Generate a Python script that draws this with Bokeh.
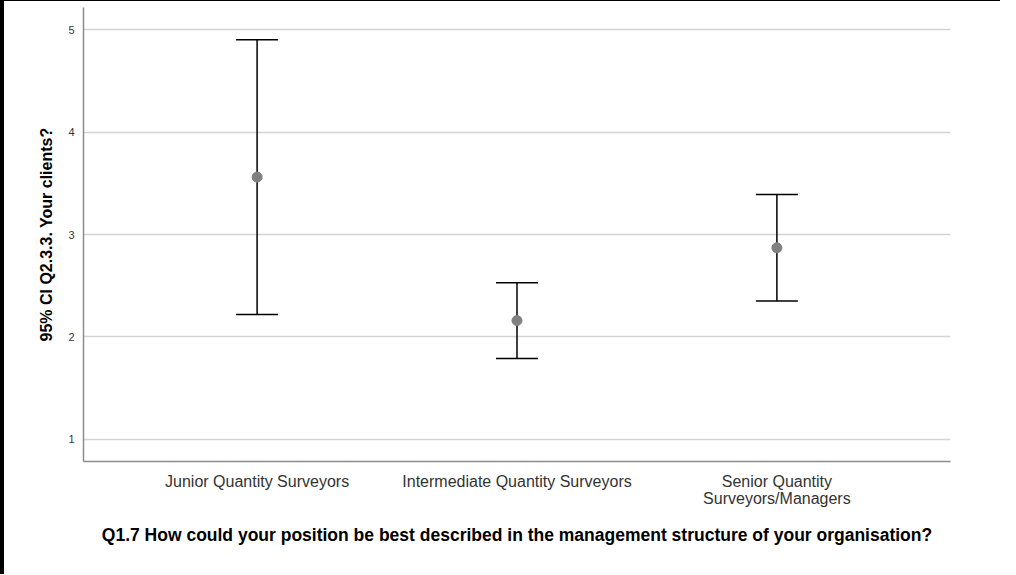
from bokeh.plotting import figure
from bokeh.layouts import column
from bokeh.models import FactorRange, Range1d, ColumnDataSource, Whisker, TeeHead, FixedTicker
from bokeh.embed import file_html
from bokeh.resources import INLINE

categories = ["Junior Quantity Surveyors\n", "Intermediate Quantity Surveyors\n", "Senior Quantity\nSurveyors/Managers"]
means = [3.56, 2.16, 2.87]
lower = [2.22, 1.79, 2.35]
upper = [4.90, 2.53, 3.39]
y_ticks = [1, 2, 3, 4, 5]

FONT = "Liberation Sans"

src = ColumnDataSource(dict(cat=categories, mean=means, lower=lower, upper=upper))

p = figure(x_range=FactorRange(*categories, range_padding=0.112),
           y_range=Range1d(0.785, 5.215),
           width=996, height=573, output_backend="svg", toolbar_location=None,
           min_border_left=79, min_border_right=50, min_border_top=6, min_border_bottom=113)
p.outline_line_color = None
p.background_fill_color = "white"
p.border_fill_color = "white"

# error bars
w = Whisker(source=src, base="cat", lower="lower", upper="upper", line_color="black", line_width=1.5,
            upper_head=TeeHead(size=42, line_color="black", line_width=1.5),
            lower_head=TeeHead(size=42, line_color="black", line_width=1.5))
p.add_layout(w)
p.scatter(x="cat", y="mean", source=src, size=10, fill_color="#808080", line_color="#808080")

p.xgrid.grid_line_color = None
p.ygrid.grid_line_color = "#d4d4d4"
p.ygrid.grid_line_width = 1.5
p.yaxis.ticker = FixedTicker(ticks=y_ticks)

for ax in [p.xaxis[0], p.yaxis[0]]:
    ax.axis_line_color = "#8c8c8c"
    ax.axis_line_width = 1.5
    ax.major_tick_line_color = None
    ax.minor_tick_line_color = None
    ax.major_label_text_font = FONT
    ax.axis_label_text_font = FONT
    ax.axis_label_text_font_style = "bold"
    ax.axis_label_text_color = "black"

p.yaxis.major_label_text_font_size = "11px"
p.yaxis.major_label_text_color = "#333333"
p.yaxis.major_label_standoff = 3
p.yaxis.axis_label = "95% CI Q2.3.3. Your clients?"
p.yaxis.axis_label_text_font_size = "16px"
p.yaxis.axis_label_standoff = 10

p.xaxis.major_label_text_font_size = "16px"
p.xaxis.major_label_text_line_height = 1.0
p.xaxis.major_label_text_color = "#333333"
p.xaxis.major_label_standoff = 5
p.xaxis.axis_label = "Q1.7 How could your position be best described in the management structure of your organisation?"
p.xaxis.axis_label_text_font_size = "17.5px"
p.xaxis.axis_label_standoff = 15

layout = column(p, styles={"border-left": "4px solid black", "border-top": "1px solid black"})

open("out.html", "w").write(file_html(layout, INLINE))
